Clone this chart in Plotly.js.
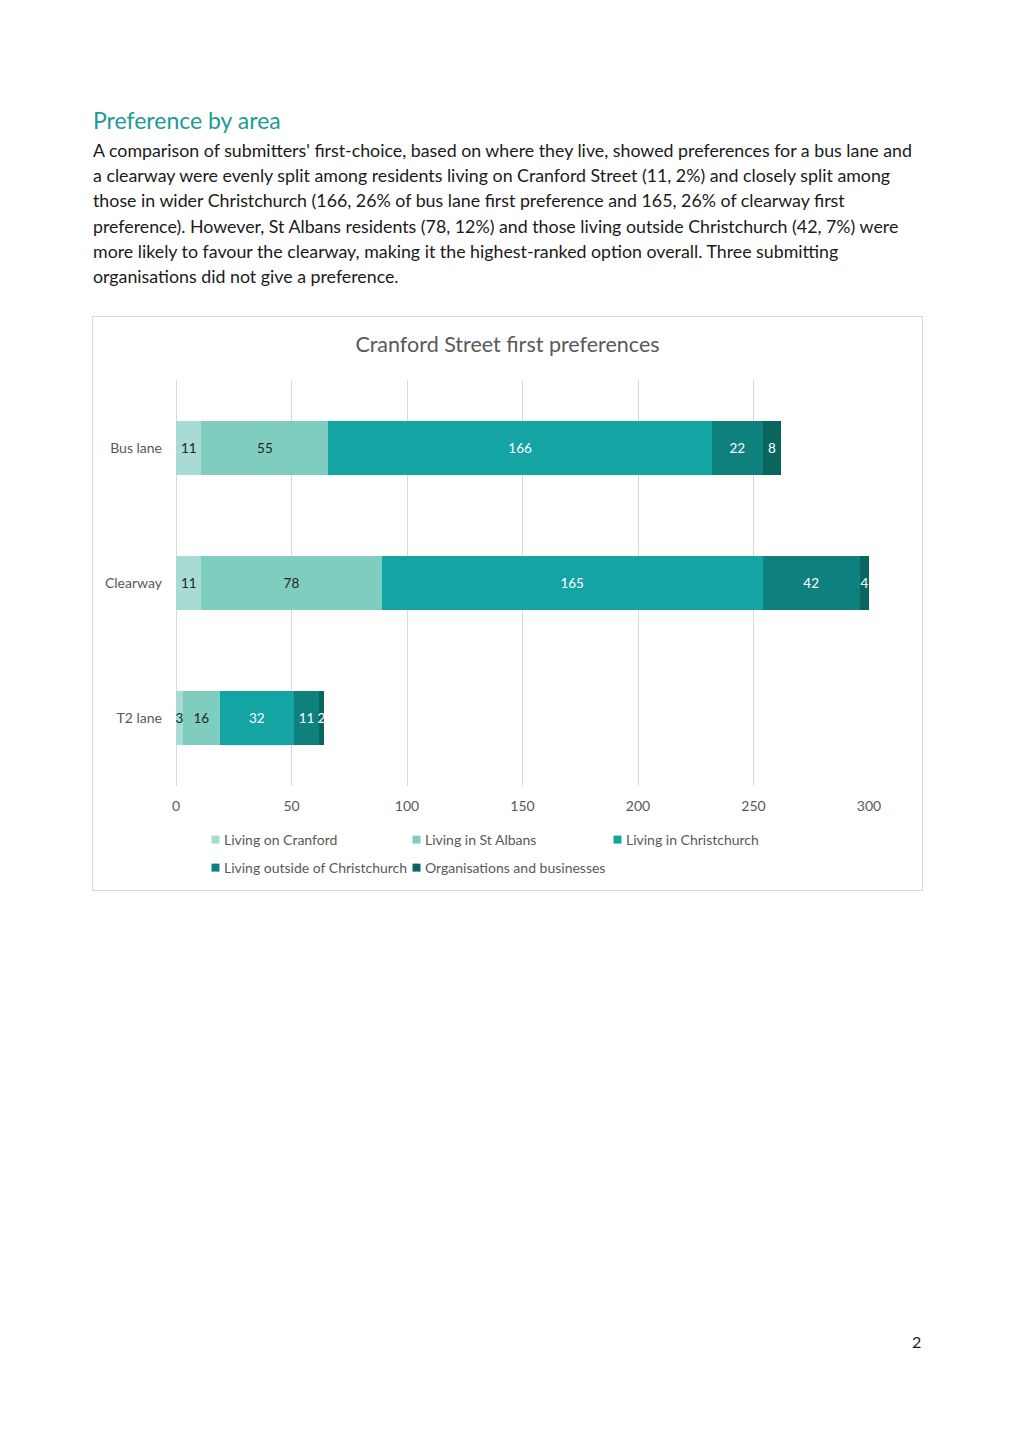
<!DOCTYPE html>
<html>
<head>
<meta charset="utf-8">
<script src="https://cdn.plot.ly/plotly-3.0.1.min.js"></script>
<style>
  html, body { margin: 0; padding: 0; background: #ffffff; }
  body { width: 1012px; height: 1433px; position: relative; font-family: Lato, "Open Sans", sans-serif; }
  #heading { position: absolute; left: 93px; top: 106px; font-size: 23px; color: #1b9a98; white-space: nowrap; }
  #para { position: absolute; left: 93px; top: 138px; font-size: 17.8px; line-height: 25.2px; color: #1a1a1a; white-space: nowrap; }
  #chartbox { position: absolute; left: 92px; top: 316px; width: 829px; height: 573px; border: 1px solid #d9d9d9; }
  #chart { width: 829px; height: 573px; }
  #pagenum { position: absolute; left: 912px; top: 1332px; font-size: 16px; color: #1a1a1a; }
</style>
</head>
<body>
<div id="heading">Preference by area</div>
<div id="para">A comparison of submitters' first-choice, based on where they live, showed preferences for a bus lane and<br>a clearway were evenly split among residents living on Cranford Street (11, 2%) and closely split among<br>those in wider Christchurch (166, 26% of bus lane first preference and 165, 26% of clearway first<br>preference). However, St Albans residents (78, 12%) and those living outside Christchurch (42, 7%) were<br>more likely to favour the clearway, making it the highest-ranked option overall. Three submitting<br>organisations did not give a preference.</div>
<div id="chartbox"><div id="chart"></div></div>
<div id="pagenum">2</div>
<script>
const categories = ["Bus lane", "Clearway", "T2 lane"];
const seriesNames = ["Living on Cranford", "Living in St Albans", "Living in Christchurch", "Living outside of Christchurch", "Organisations and businesses"];
const livingOnCranford = [11, 11, 3];
const livingInStAlbans = [55, 78, 16];
const livingInChristchurch = [166, 165, 32];
const livingOutsideChristchurch = [22, 42, 11];
const organisations = [8, 4, 2];
const xTicks = [0, 50, 100, 150, 200, 250, 300];

const seriesValues = [livingOnCranford, livingInStAlbans, livingInChristchurch, livingOutsideChristchurch, organisations];
const colors = ["#a7dbd4", "#7fcdbf", "#13a4a3", "#0e817e", "#09665f"];
const textColors = ["#262626", "#262626", "#ffffff", "#ffffff", "#ffffff"];
const legendRow = ["legend", "legend", "legend", "legend2", "legend3"];
const fontFam = "Lato, 'Open Sans', sans-serif";

const traces = seriesNames.map((name, i) => ({
  type: "bar",
  orientation: "h",
  name: name,
  y: categories,
  x: seriesValues[i],
  text: seriesValues[i].map(String),
  textposition: "inside",
  insidetextanchor: "middle",
  constraintext: "none",
  textangle: 0,
  textfont: { family: fontFam, size: 13.5, color: textColors[i] },
  marker: { color: colors[i], line: { width: 0 } },
  legend: legendRow[i],
  hoverinfo: "x+name"
}));

const legendCommon = {
  orientation: "h",
  xanchor: "left",
  yanchor: "middle",
  traceorder: "normal",
  font: { family: fontFam, size: 14, color: "#595959" },
  itemclick: false,
  itemdoubleclick: false,
  bgcolor: "rgba(0,0,0,0)"
};

const layout = {
  width: 829,
  height: 573,
  margin: { l: 83, r: 53, t: 63, b: 104, autoexpand: false },
  paper_bgcolor: "#ffffff",
  plot_bgcolor: "#ffffff",
  barmode: "stack",
  bargap: 0.6,
  showlegend: true,
  title: {
    text: "Cranford Street first preferences",
    font: { family: fontFam, size: 21.5, color: "#595959" },
    x: 0.5, xanchor: "center", y: 1, yanchor: "top", yref: "container", pad: { t: 20 }
  },
  xaxis: {
    range: [0, 300],
    tickvals: xTicks,
    ticktext: xTicks.map(String),
    showgrid: true,
    gridcolor: "#d9d9d9",
    gridwidth: 1,
    zeroline: true,
    zerolinecolor: "#d9d9d9",
    zerolinewidth: 1,
    showline: false,
    ticks: "",
    tickfont: { family: fontFam, size: 14, color: "#595959" },
    ticklabelstandoff: 10,
    fixedrange: true
  },
  yaxis: {
    autorange: "reversed",
    showgrid: false,
    zeroline: false,
    showline: false,
    ticks: "",
    tickfont: { family: fontFam, size: 14, color: "#595959" },
    ticklabelstandoff: 13,
    fixedrange: true
  },
  legend: Object.assign({}, legendCommon, { x: 0.0115, y: -0.133, entrywidth: 156, entrywidthmode: "pixels" }),
  legend2: Object.assign({}, legendCommon, { x: 0.0115, y: -0.202 }),
  legend3: Object.assign({}, legendCommon, { x: 0.3016, y: -0.202 }),
  font: { family: fontFam }
};

Plotly.newPlot("chart", traces, layout, { displayModeBar: false, staticPlot: true }).then(gd => {
  // smaller, Excel-like legend swatches placed just before each label
  gd.querySelectorAll("g.legendpoints path").forEach(p => {
    p.setAttribute("d", "M4,4H-4V-4H4Z");
    p.setAttribute("transform", (p.getAttribute("transform") || "") + " translate(11.5,0)");
  });
});
</script>
</body>
</html>
